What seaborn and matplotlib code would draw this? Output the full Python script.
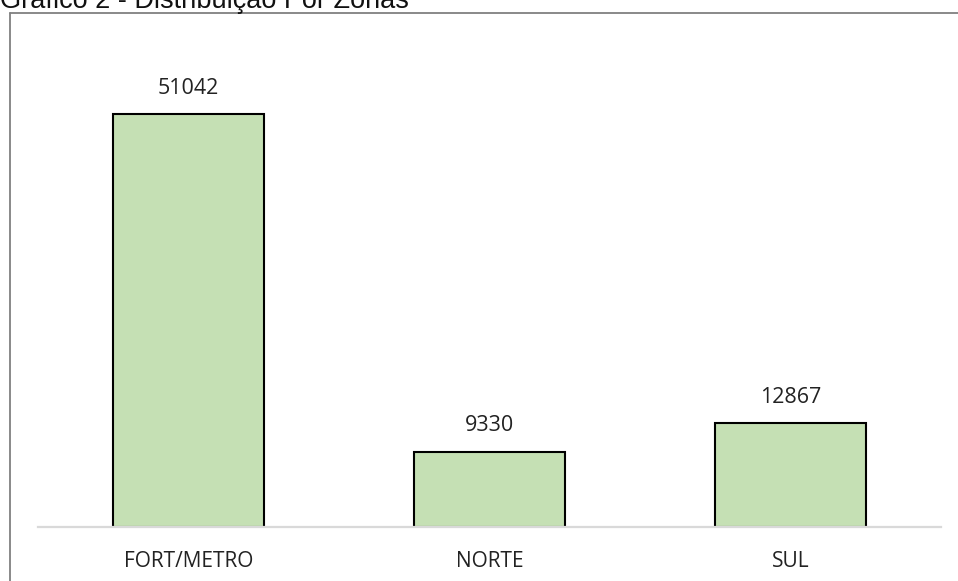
import matplotlib
matplotlib.use("Agg")
import matplotlib.pyplot as plt
import seaborn as sns
import pandas as pd
from matplotlib.lines import Line2D

categories = ["FORT/METRO", "NORTE", "SUL"]
values = [51042, 9330, 12867]
title = "Gráfico 2 - Distribuição Por Zonas"

df = pd.DataFrame({"zona": categories, "total": values})

sns.set_theme(style="white")
plt.rcParams["font.family"] = ["Open Sans", "DejaVu Sans"]

W, H = 958, 581
fig = plt.figure(figsize=(W / 100, H / 100), dpi=100)

# axes area: x 38..941, baseline y=527, top y=42 (ymax 60000)
ax = fig.add_axes([38 / W, 1 - 527 / H, (941 - 38) / W, (527 - 42) / H])
sns.barplot(data=df, x="zona", y="total", ax=ax, color="#C5E0B4",
            saturation=1, width=0.5, edgecolor="black", linewidth=1.5)
ax.set_xlim(-0.5, 2.5)
ax.set_ylim(0, 60000)
ax.set_xlabel("")
ax.set_ylabel("")
ax.set_yticks([])
ax.tick_params(axis="x", length=0, pad=17, labelsize=15, labelcolor="#222222")
for s in ["top", "right", "left"]:
    ax.spines[s].set_visible(False)
ax.spines["bottom"].set_color("#D9D9D9")
ax.spines["bottom"].set_linewidth(1.6)
ax.set_facecolor("none")

for c in ax.containers:
    ax.bar_label(c, labels=[str(v) for v in values], padding=11,
                 fontsize=15.5, color="#222222")

# outer frame (gray border at top and left)
fig.add_artist(Line2D([9.5 / W, 9.5 / W], [0, 1 - 13 / H], transform=fig.transFigure,
                      color="#808080", linewidth=1.3))
fig.add_artist(Line2D([9.5 / W, 1], [1 - 13 / H, 1 - 13 / H], transform=fig.transFigure,
                      color="#808080", linewidth=1.3))

fig.text(0.0, 1 - 7.5 / H, title, ha="left", va="baseline", fontsize=19.5,
         family=["Liberation Sans", "DejaVu Sans"], color="#111111")

fig.savefig("out.png", dpi=100, facecolor="white")
